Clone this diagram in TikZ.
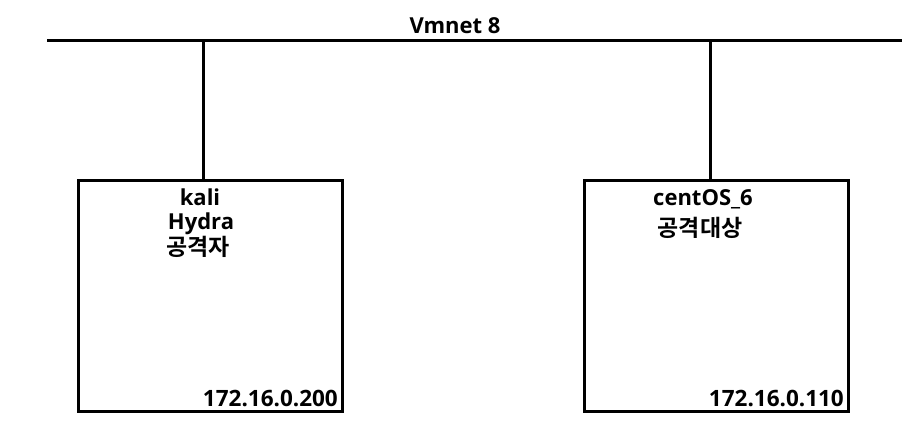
\documentclass[tikz,border=0pt]{standalone}
\usepackage{fontspec}
\setmainfont{Open Sans}[BoldFont={* Bold}]
\newfontfamily\krfont{Noto Sans CJK KR Bold}
\begin{document}
\begin{tikzpicture}[x=1pt,y=-1pt,
  wire/.style={line width=3pt},
  hostbox/.style={draw,line width=3pt,minimum width=264pt,minimum height=231pt,inner sep=0pt},
  lbl/.style={font=\fontsize{22}{25}\selectfont\bfseries,inner sep=0pt,anchor=base},
  krlbl/.style={font=\fontsize{23}{26}\selectfont\krfont,inner sep=0pt,anchor=base},
  ip/.style={font=\fontsize{22.5}{25}\selectfont\bfseries,inner sep=0pt,anchor=base east}]
\useasboundingbox (0,0) rectangle (902,432);
\coordinate (busL) at (47,40);
\coordinate (busR) at (902,40);
\draw[wire] (busL) -- (busR);
\node[lbl] (vm) at (455,33) {Vmnet 8};
\node[hostbox] (kali) at (210,295.5) {};
\node[hostbox] (cent) at (716.5,295.5) {};
\coordinate (tapL) at (203,40);
\coordinate (tapR) at (710,40);
\draw[wire] (tapL) -- (tapL |- kali.north);
\draw[wire] (tapR) -- (tapR |- cent.north);
\node[lbl] (k1) at (200,205) {kali};
\node[lbl] (k2) at (201,229) {Hydra};
\node[krlbl] (k3) at (198,255) {공격자};
\node[lbl] (c1) at (703,205) {centOS\_6};
\node[krlbl] (c2) at (700,236) {공격대상};
\node[ip] (ipk) at (338,406) {172.16.0.200};
\node[ip] (ipc) at (844,406) {172.16.0.110};
\end{tikzpicture}
\end{document}
